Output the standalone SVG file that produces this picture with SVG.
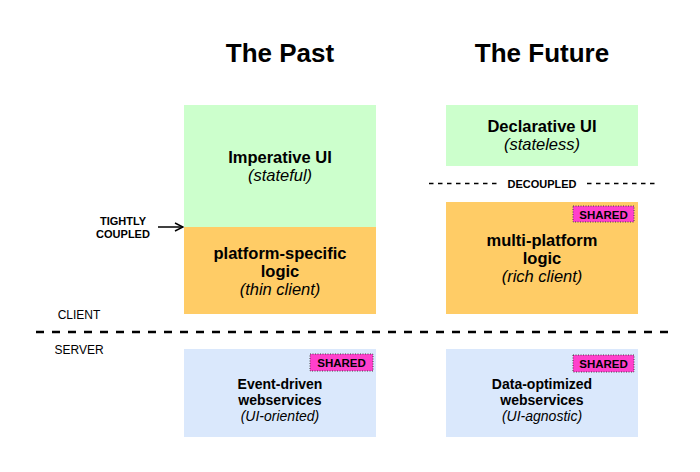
<svg xmlns="http://www.w3.org/2000/svg" width="700" height="472" viewBox="0 0 700 472">
<style>
text{font-family:"Liberation Sans",Arial,Helvetica,sans-serif;fill:#000;text-anchor:middle}
.title{font-size:26px;font-weight:bold}
.b{font-size:16.5px;font-weight:bold}
.i{font-size:16.5px;font-style:italic}
.sb{font-size:14px;font-weight:bold}
.si{font-size:14px;font-style:italic}
.lbl{font-size:11px;font-weight:bold}
.side{font-size:12px}
.badge rect{fill:#FF40CC;stroke:#444;stroke-width:1;stroke-dasharray:1 1.5}
.badge text{font-size:11.5px;font-weight:bold}
.green{fill:#CCFFCC}
.orange{fill:#FFCC66}
.blue{fill:#DAE8FC}
</style>
<defs>
<marker id="arr" markerWidth="10" markerHeight="10" refX="9" refY="5" orient="auto" markerUnits="userSpaceOnUse">
<path d="M1,1 L9,5 L1,9" fill="none" stroke="#000" stroke-width="1.5"/>
</marker>
</defs>

<g id="titles">
<text class="title" x="280" y="62">The Past</text>
<text class="title" x="542" y="62">The Future</text>
</g>

<g id="past-ui">
<rect class="green" x="184" y="105" width="192" height="122"/>
<text class="b" x="280" y="163">Imperative UI</text>
<text class="i" x="280" y="181">(stateful)</text>
</g>

<g id="past-logic">
<rect class="orange" x="184" y="227" width="192" height="87"/>
<text class="b" x="280" y="259">platform-specific</text>
<text class="b" x="280" y="277">logic</text>
<text class="i" x="280" y="295">(thin client)</text>
</g>

<g id="future-ui">
<rect class="green" x="446" y="105" width="192" height="61"/>
<text class="b" x="542" y="132">Declarative UI</text>
<text class="i" x="542" y="150">(stateless)</text>
</g>

<g id="future-logic">
<rect class="orange" x="446" y="202" width="192" height="112"/>
<g class="badge"><rect x="573" y="206" width="61" height="16"/><text x="603.5" y="218.5">SHARED</text></g>
<text class="b" x="542" y="246">multi-platform</text>
<text class="b" x="542" y="264">logic</text>
<text class="i" x="542" y="282">(rich client)</text>
</g>

<g id="past-server">
<rect class="blue" x="184" y="349" width="192" height="88"/>
<g class="badge"><rect x="310" y="354" width="63" height="17"/><text x="341.5" y="367">SHARED</text></g>
<text class="sb" x="280" y="389">Event-driven</text>
<text class="sb" x="280" y="405">webservices</text>
<text class="si" x="280" y="421">(UI-oriented)</text>
</g>

<g id="future-server">
<rect class="blue" x="446" y="349" width="192" height="88"/>
<g class="badge"><rect x="573" y="355" width="61" height="17"/><text x="603.5" y="368">SHARED</text></g>
<text class="sb" x="542" y="389">Data-optimized</text>
<text class="sb" x="542" y="405">webservices</text>
<text class="si" x="542" y="421">(UI-agnostic)</text>
</g>

<g id="labels">
<text class="lbl" x="123" y="225">TIGHTLY</text>
<text class="lbl" x="123" y="238">COUPLED</text>
<text class="lbl" x="542" y="188">DECOUPLED</text>
<text class="side" x="79" y="319">CLIENT</text>
<text class="side" x="79" y="354">SERVER</text>
</g>

<g id="connectors">
<line x1="158" y1="227" x2="183" y2="227" stroke="#000" stroke-width="1.5" marker-end="url(#arr)"/>
<line x1="429" y1="183.5" x2="497" y2="183.5" stroke="#000" stroke-width="1.5" stroke-dasharray="4.5 4.5"/>
<line x1="587" y1="183.5" x2="655" y2="183.5" stroke="#000" stroke-width="1.5" stroke-dasharray="4.5 4.5"/>
<line x1="36" y1="332" x2="674" y2="332" stroke="#000" stroke-width="2.7" stroke-dasharray="8 8"/>
</g>
</svg>
